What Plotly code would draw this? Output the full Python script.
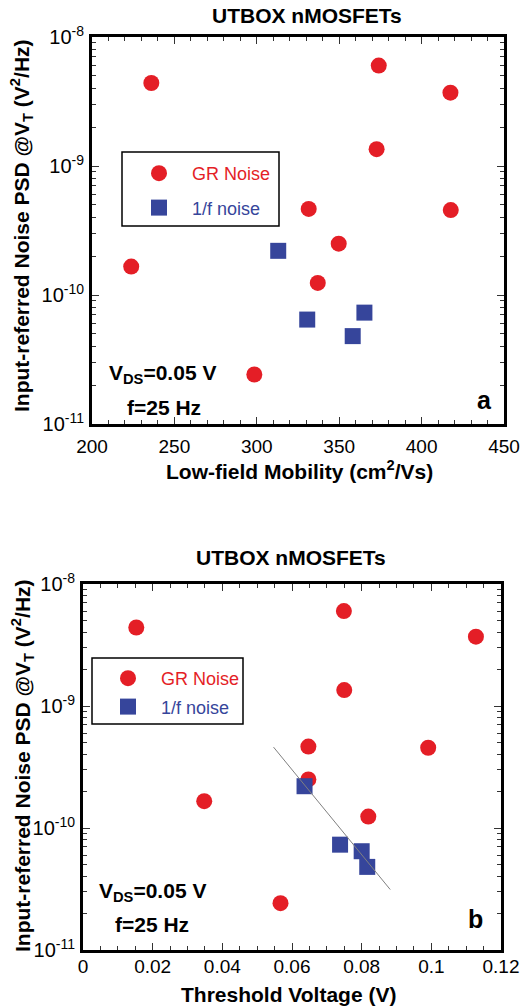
import plotly.graph_objects as go

# ---------------- data ----------------
gr_psd = [4.4e-9, 6.0e-9, 3.7e-9, 1.35e-9, 4.65e-10, 4.55e-10, 2.5e-10, 1.66e-10, 1.24e-10, 2.42e-11]
gr_mobility = [236, 374, 417.5, 372.7, 331.5, 417.7, 349.7, 223.8, 337, 298.5]
gr_vt = [0.0153, 0.0749, 0.1128, 0.0750, 0.0647, 0.0991, 0.0647, 0.0348, 0.0819, 0.0567]

f_psd = [2.2e-10, 6.45e-11, 7.3e-11, 4.8e-11]
f_mobility = [313, 330.6, 365.3, 358.2]
f_vt = [0.0636, 0.0800, 0.0738, 0.0816]

fit_vt = [0.0547, 0.0882]
fit_psd = [4.6e-10, 3.13e-11]

y_tickvals = [1e-11, 1e-10, 1e-9, 1e-8]
y_ticktext = ["10<sup>-11</sup>", "10<sup>-10</sup>", "10<sup>-9</sup>", "10<sup>-8</sup>"]

RED = "#E41E26"
BLUE = "#36459B"
W, H = 527, 1008
FONT = "Liberation Sans, Arial, sans-serif"


def px(x):
    return x / W


def py(y):
    return 1 - y / H


fig = go.Figure()

# top panel
fig.add_trace(go.Scatter(x=gr_mobility, y=gr_psd, mode="markers", name=f"<span style='color:{RED}'>GR Noise</span>",
                         marker=dict(symbol="circle", size=16, color=RED), xaxis="x", yaxis="y",
                         legend="legend", legendgroup="a1"))
fig.add_trace(go.Scatter(x=f_mobility, y=f_psd, mode="markers", name=f"<span style='color:{BLUE}'>1/f noise</span>",
                         marker=dict(symbol="square", size=16, color=BLUE), xaxis="x", yaxis="y",
                         legend="legend", legendgroup="a2"))
# bottom panel
fig.add_trace(go.Scatter(x=gr_vt, y=gr_psd, mode="markers", name=f"<span style='color:{RED}'>GR Noise</span>",
                         marker=dict(symbol="circle", size=16, color=RED), xaxis="x2", yaxis="y2",
                         legend="legend2", legendgroup="b1"))
fig.add_trace(go.Scatter(x=f_vt, y=f_psd, mode="markers", name=f"<span style='color:{BLUE}'>1/f noise</span>",
                         marker=dict(symbol="square", size=16, color=BLUE), xaxis="x2", yaxis="y2",
                         legend="legend2", legendgroup="b2"))
fig.add_trace(go.Scatter(x=fit_vt, y=fit_psd, mode="lines", line=dict(color="#808080", width=1),
                         showlegend=False, xaxis="x2", yaxis="y2"))

minor_log = [m * 10.0 ** e for e in range(-11, -8) for m in range(2, 10)]

common = dict(showline=True, linewidth=3, linecolor="black", mirror="allticks", ticks="inside",
              ticklen=7, tickwidth=1, tickcolor="#333", showgrid=False, zeroline=False, automargin=False,
              tickfont=dict(family=FONT, size=19, color="black"))

xa_top = dict(common, domain=[px(92), px(504)], range=[200, 450], dtick=50, tick0=200,
              minor=dict(dtick=10, ticks="inside", ticklen=4, tickcolor="#333", showgrid=False),
              anchor="y", ticklabelstandoff=3)
ya_top = dict(common, domain=[py(424), py(37)], type="log", range=[-11, -8], tickmode="array",
              tickvals=y_tickvals, ticktext=y_ticktext, tickfont=dict(family=FONT, size=20, color="black"),
              minor=dict(tickmode="array", tickvals=minor_log, ticks="inside", ticklen=4, tickcolor="#333", showgrid=False),
              anchor="x", ticklabelstandoff=1)
xa_bot = dict(common, domain=[px(83), px(501)], range=[0, 0.12], dtick=0.02, tick0=0,
              minor=dict(dtick=0.005, ticks="inside", ticklen=4, tickcolor="#333", showgrid=False),
              anchor="y2", ticklabelstandoff=-3)
ya_bot = dict(common, domain=[py(950), py(584)], type="log", range=[-11, -8], tickmode="array",
              tickvals=y_tickvals, ticktext=y_ticktext, tickfont=dict(family=FONT, size=20, color="black"),
              minor=dict(tickmode="array", tickvals=minor_log, ticks="inside", ticklen=4, tickcolor="#333", showgrid=False),
              anchor="x2", ticklabelstandoff=1)

bold = dict(family=FONT, size=21, color="black")
ytitle = "<b>Input-referred Noise PSD @V<sub>T</sub> (V<sup>2</sup>/Hz)</b>"

annotations = [
    dict(text="<b>UTBOX nMOSFETs</b>", x=px(307), y=py(16), font=bold),
    dict(text="<b>UTBOX nMOSFETs</b>", x=px(291), y=py(557), font=bold),
    dict(text="<b>Low-field Mobility (cm<sup>2</sup>/Vs)</b>", x=px(299), y=py(470), font=bold),
    dict(text="<b>Threshold Voltage (V)</b>", x=px(288), y=py(994), font=bold),
    dict(text=ytitle, x=px(22), y=py(226), font=bold, textangle=-90),
    dict(text=ytitle, x=px(22), y=py(766), font=bold, textangle=-90),
    dict(text="<b>V<sub>DS</sub>=0.05 V</b>", x=px(107), y=py(374), font=bold, xanchor="left"),
    dict(text="<b>f=25 Hz</b>", x=px(125), y=py(407), font=bold, xanchor="left"),
    dict(text="<b>a</b>", x=px(484), y=py(400), font=dict(family=FONT, size=25, color="black")),
    dict(text="<b>V<sub>DS</sub>=0.05 V</b>", x=px(97), y=py(892), font=bold, xanchor="left"),
    dict(text="<b>f=25 Hz</b>", x=px(113), y=py(924), font=bold, xanchor="left"),
    dict(text="<b>b</b>", x=px(475), y=py(919), font=dict(family=FONT, size=25, color="black")),
]
for a in annotations:
    a.setdefault("xanchor", "center")
    a.update(xref="paper", yref="paper", yanchor="middle", showarrow=False)

shapes = [
    dict(type="rect", xref="paper", yref="paper", x0=px(122), x1=px(279), y0=py(226), y1=py(152),
         line=dict(color="black", width=1.5)),
    dict(type="rect", xref="paper", yref="paper", x0=px(92), x1=px(243), y0=py(724), y1=py(658),
         line=dict(color="black", width=1.5)),
]

leg_common = dict(font=dict(family=FONT, size=18, color="black"), bgcolor="rgba(0,0,0,0)",
                  borderwidth=0, itemwidth=56, traceorder="grouped",
                  xanchor="left", yanchor="top", xref="paper", yref="paper")

fig.update_layout(
    width=W, height=H, margin=dict(l=0, r=0, t=0, b=0, autoexpand=False),
    paper_bgcolor="white", plot_bgcolor="white",
    xaxis=xa_top, yaxis=ya_top, xaxis2=xa_bot, yaxis2=ya_bot,
    annotations=annotations, shapes=shapes,
    legend=dict(leg_common, x=px(126), y=py(155), tracegroupgap=8),
    legend2=dict(leg_common, x=px(95), y=py(660), tracegroupgap=2),
    showlegend=True,
)

fig.write_html("out.html")
